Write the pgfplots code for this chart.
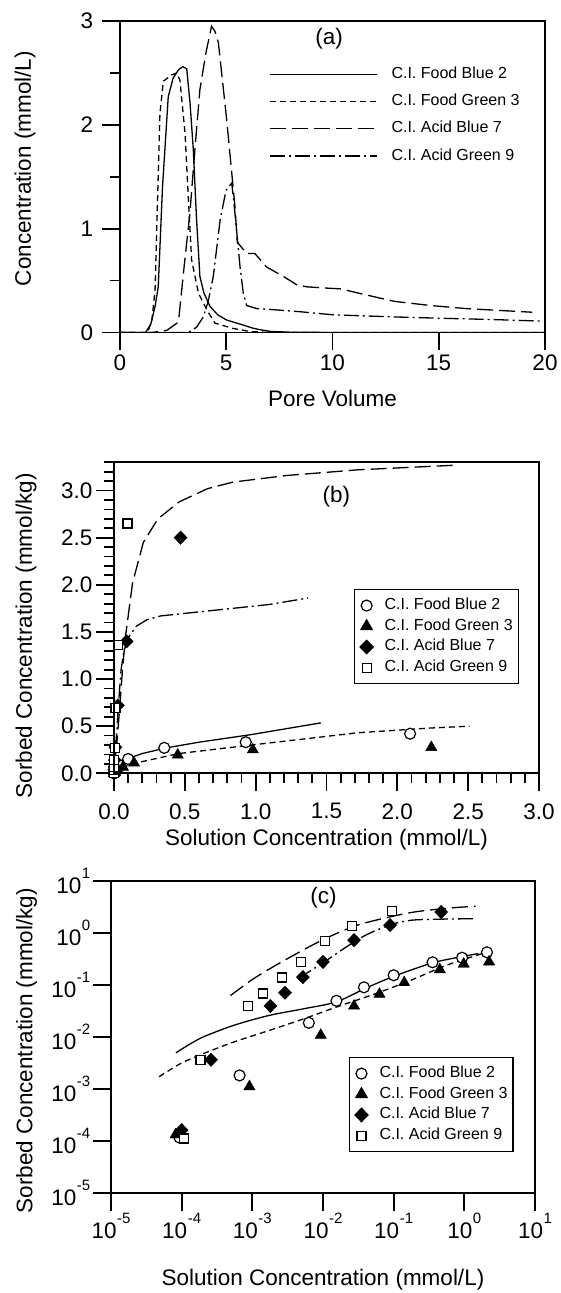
\documentclass[border=0pt]{standalone}
\usepackage{fontspec}
\setmainfont{Liberation Sans}
\usepackage{pgfplots}
\usepackage{pgfplotstable}
\pgfplotsset{compat=1.18}
\newcommand{\fL}{\fontsize{22.5}{26}\selectfont}
\newcommand{\fS}{\fontsize{16}{18}\selectfont}
\newcommand{\tp}[1]{10\kern0.5pt\raisebox{15pt}{\fontsize{15}{15}\selectfont #1}}

% measured points (shared by panels b and c)
\pgfplotstableread{
x y
9.3e-5 1.15e-4
6.6e-4 1.8e-3
6.3e-3 0.0185
0.0155 0.049
0.038 0.089
0.10 0.152
0.355 0.27
0.93 0.33
2.09 0.42
}\FBtwo
\pgfplotstableread{
x y
8.2e-5 1.3e-4
9.1e-4 1.1e-3
9.3e-3 0.0107
0.0275 0.039
0.063 0.066
0.141 0.11
0.45 0.195
0.98 0.25
2.24 0.275
}\FGthree
\pgfplotstableread{
x y
1.0e-4 1.6e-4
2.6e-4 3.6e-3
1.8e-3 0.039
2.9e-3 0.07
5.2e-3 0.14
0.010 0.275
0.0275 0.72
0.089 1.4
0.47 2.5
}\ABseven
\pgfplotstableread{
x y
1.07e-4 1.1e-4
1.85e-4 3.6e-3
8.7e-4 0.039
1.4e-3 0.068
2.6e-3 0.138
4.9e-3 0.27
0.0107 0.69
0.026 1.36
0.095 2.65
}\AGnine

\pgfplotsset{
  panel/.style={scale only axis, anchor=south west, clip mode=individual,
    axis lines=box,
    axis line style={line width=1.8pt, draw=black},
    every tick/.style={line width=1.8pt, black},
    major tick length=18pt, minor tick length=10pt,
    tick align=outside, tick pos=left,
    tick label style={font=\fL, inner sep=0pt}, label style={font=\fL, inner sep=0pt},
    /pgf/number format/assume math mode=true},
  sdash/.style={dash pattern=on 6pt off 4pt},
  ldash/.style={dash pattern=on 16pt off 6pt},
  ddot/.style={dash pattern=on 15pt off 4pt on 2pt off 4pt},
  fitl/.style={black, line width=1.3pt, mark=none, forget plot},
  mA/.style={black, only marks, mark=*, mark size=5.5pt, mark options={fill=white, draw=black, line width=1.2pt, solid}},
  mB/.style={black, only marks, mark=triangle*, mark size=6.5pt, mark options={fill=black, draw=black, solid}},
  mC/.style={black, only marks, mark=diamond*, mark size=6.7pt, mark options={fill=black, draw=black, xscale=1.3, solid}},
  mD/.style={black, only marks, mark=square*, mark size=4.5pt, mark options={fill=white, draw=black, line width=1.2pt, solid}},
  mlegend/.style={legend cell align=left,
    legend image code/.code={\draw[##1] plot coordinates {(0pt,0pt)};},
    legend style={anchor=north west, draw=black, line width=1.2pt, fill=white, font=\fS,
      inner xsep=5.5pt, inner ysep=8.5pt, row sep=5.7pt,
      nodes={inner sep=0pt, text height=11.5pt, text depth=3.5pt},
      /tikz/every odd column/.append style={column sep=11.5pt}}},
}

\begin{document}
\begin{tikzpicture}
\useasboundingbox (0,0) rectangle (561pt,1293pt);

% ---------------- panel (a)
\begin{axis}[panel, at={(120pt,960.5pt)}, width=425pt, height=311.5pt,
  xmin=0, xmax=20, ymin=0, ymax=3,
  xtick={0,5,10,15,20}, ytick={0,1,2,3}, minor ytick={0.5,1.5,2.5},
  yticklabel style={xshift=-8.7pt}, xticklabel style={yshift=-4.5pt},
  xlabel={Pore Volume}, ylabel={Concentration (mmol/L)},
  xlabel style={at={(axis description cs:0.5,-0.2376)}, anchor=base},
  ylabel style={at={(axis description cs:-0.2235,0.526)}, anchor=center},
  legend cell align=left,
  legend image code/.code={\draw[#1] (0pt,0pt) -- (107pt,0pt);},
  legend style={at={(axis description cs:0.3506,0.854)}, anchor=north west,
    draw=none, fill=none, font=\fS, inner sep=0pt, row sep=12.3pt,
    nodes={inner sep=0pt, text height=11.5pt, text depth=3.5pt},
    /tikz/every odd column/.append style={column sep=14pt}},
]
\addplot[black, line width=1.3pt] coordinates {
(0,0) (1.2,0) (1.45,0.08) (1.65,0.25) (1.80,0.44) (2.0,1.4) (2.27,2.27) (2.5,2.45)
(2.75,2.53) (2.95,2.56) (3.14,2.54) (3.3,2.2) (3.45,1.76) (3.6,1.1) (3.76,0.54)
(3.95,0.38) (4.24,0.25) (4.6,0.17) (5.02,0.12) (5.5,0.09) (5.82,0.07) (6.2,0.045)
(6.5,0.03) (7.1,0.01) (8,0.003) (10,0) (20,0)};
\addlegendentry{C.I. Food Blue 2}
\addplot[black, line width=1.3pt, sdash] coordinates {
(0,0) (1.3,0) (1.5,0.12) (1.65,0.41) (1.88,2.11) (2.04,2.42) (2.43,2.48) (2.67,2.50)
(2.82,2.43) (3.06,1.92) (3.22,1.28) (3.37,0.70) (3.69,0.38) (4.08,0.22) (4.47,0.09)
(5.3,0.04) (6.1,0.01) (7,0) (20,0)};
\addlegendentry{C.I. Food Green 3}
\addplot[black, line width=1.3pt, ldash] coordinates {
(0,0) (1.5,0) (2.2,0.02) (2.75,0.10) (3.0,0.6) (3.29,1.15) (3.5,1.7) (3.76,2.34)
(4.05,2.7) (4.31,2.95) (4.47,2.90) (4.63,2.79) (5.02,2.05) (5.41,1.21) (5.52,0.87)
(5.96,0.76) (6.35,0.76) (6.9,0.63) (7.69,0.54) (8.31,0.46) (8.78,0.44) (9.5,0.43)
(10.4,0.42) (11.2,0.38) (12.9,0.30) (14.6,0.26) (16.3,0.23) (19.4,0.195)};
\addlegendentry{C.I. Acid Blue 7}
\addplot[black, line width=1.3pt, ddot] coordinates {
(0,0) (3.2,0) (3.6,0.05) (3.92,0.15) (4.15,0.3) (4.39,0.54) (4.71,1.08) (4.99,1.37)
(5.26,1.44) (5.41,1.15) (5.65,0.63) (5.80,0.38) (5.96,0.26) (6.43,0.23) (7.2,0.22)
(8.47,0.20) (10.04,0.17) (12.9,0.15) (15.1,0.137) (17.5,0.125) (19.76,0.11)};
\addlegendentry{C.I. Acid Green 9}
\node[font=\fL] at (axis cs:9.84,2.83) {(a)};
\end{axis}
\draw[black, line width=1.8pt] (120pt,960.5pt) rectangle (545pt,1272pt);

% ---------------- panel (b)
\begin{axis}[panel, mlegend, at={(114pt,519.7pt)}, width=425pt, height=311pt,
  xmin=0, xmax=3, ymin=0, ymax=3.3,
  xtick={0,0.5,...,3}, ytick={0,0.5,...,3},
  minor xtick={0,0.1,...,3.01}, minor ytick={0,0.1,...,3.25},
  yticklabel style={xshift=-3.3pt}, xticklabel style={yshift=-12pt},
  /pgf/number format/fixed, /pgf/number format/fixed zerofill, /pgf/number format/precision=1,
  xlabel={Solution Concentration (mmol/L)}, ylabel={Sorbed Concentration (mmol/kg)},
  xlabel style={at={(axis description cs:0.5,-0.2315)}, anchor=base},
  ylabel style={at={(axis description cs:-0.207,0.442)}, anchor=center},
  legend style={at={(axis description cs:0.5647,0.5926)}},
]
\addplot[fitl] coordinates {(0,0) (0.01,0.04) (0.04,0.09) (0.106,0.16) (0.2,0.21) (0.37,0.27) (0.6,0.33) (0.966,0.41) (1.46,0.535)};
\addplot[fitl, sdash] coordinates {(0,0) (0.01,0.02) (0.05,0.06) (0.157,0.11) (0.46,0.21) (0.97,0.30) (1.72,0.43) (2.23,0.48) (2.51,0.50)};
\addplot[fitl, ldash] coordinates {(0,0) (0.01,0.15) (0.03,0.5) (0.043,0.75) (0.06,1.1) (0.081,1.45) (0.131,2.02) (0.207,2.45) (0.31,2.70) (0.46,2.88) (0.66,3.02) (0.84,3.09) (1.22,3.16) (1.72,3.22) (2.42,3.27)};
\addplot[fitl, ddot] coordinates {(0,0) (0.01,0.25) (0.02,0.45) (0.03,0.70) (0.05,1.1) (0.07,1.3) (0.09,1.38) (0.106,1.45) (0.157,1.56) (0.233,1.63) (0.33,1.67) (0.71,1.73) (1.09,1.79) (1.37,1.86)};
\addplot[mA] table {\FBtwo}; \addlegendentry{C.I. Food Blue 2}
\addplot[mB] table {\FGthree}; \addlegendentry{C.I. Food Green 3}
\addplot[mC] table {\ABseven}; \addlegendentry{C.I. Acid Blue 7}
\addplot[mD] table {\AGnine}; \addlegendentry{C.I. Acid Green 9}
\node[font=\fL] at (axis cs:1.57,2.93) {(b)};
\end{axis}
\draw[black, line width=1.8pt] (114pt,519.7pt) rectangle (539pt,830.7pt);

% ---------------- panel (c)
\begin{axis}[panel, mlegend, at={(111pt,100.3pt)}, width=424pt, height=312pt,
  xmode=log, ymode=log, xmin=1e-5, xmax=10, ymin=1e-5, ymax=10,
  xminorticks=false, yminorticks=false,
  xtick={1e-5,1e-4,1e-3,1e-2,1e-1,1,10}, ytick={1e-5,1e-4,1e-3,1e-2,1e-1,1,10},
  xticklabels={\tp{-5},\tp{-4},\tp{-3},\tp{-2},\tp{-1},\tp{0},\tp{1}},
  yticklabels={\tp{-5},\tp{-4},\tp{-3},\tp{-2},\tp{-1},\tp{0},\tp{1}},
  yticklabel style={xshift=-2.7pt}, xticklabel style={yshift=-2.3pt},
  xlabel={Solution Concentration (mmol/L)}, ylabel={Sorbed Concentration (mmol/kg)},
  xlabel style={at={(axis description cs:0.5,-0.298)}, anchor=base},
  ylabel style={at={(axis description cs:-0.1993,0.455)}, anchor=center},
  legend style={at={(axis description cs:0.561,0.435)}},
]
\addplot[fitl, smooth] coordinates {(8.32e-5,4.90e-3) (1.35e-4,7.41e-3) (2.14e-4,0.01023) (5.50e-4,0.0166) (1.74e-3,0.0257) (5.50e-3,0.0347) (0.0155,0.0468) (0.0398,0.0851) (0.1,0.1445) (0.355,0.263) (0.933,0.347) (1.585,0.398)};
\addplot[fitl, smooth, sdash] coordinates {(4.79e-5,1.70e-3) (9.55e-5,3.02e-3) (1.91e-4,4.57e-3) (5.50e-4,7.94e-3) (1.74e-3,0.0132) (5.50e-3,0.0224) (0.0155,0.0372) (0.0562,0.0676) (0.178,0.123) (0.575,0.240) (2.14,0.427)};
\addplot[fitl, smooth, ldash] coordinates {(4.90e-4,0.0617) (9.77e-4,0.123) (1.95e-3,0.219) (3.89e-3,0.372) (7.76e-3,0.617) (0.0158,0.977) (0.0316,1.413) (0.0794,1.95) (0.1995,2.51) (0.575,2.95) (1.445,3.24)};
\addplot[fitl, smooth, ddot] coordinates {(4.47e-3,0.132) (0.01,0.263) (0.0200,0.501) (0.0398,0.891) (0.0891,1.413) (0.178,1.738) (0.457,1.82) (1.445,1.862)};
\addplot[mA] table {\FBtwo}; \addlegendentry{C.I. Food Blue 2}
\addplot[mB] table {\FGthree}; \addlegendentry{C.I. Food Green 3}
\addplot[mC] table {\ABseven}; \addlegendentry{C.I. Acid Blue 7}
\addplot[mD] table {\AGnine}; \addlegendentry{C.I. Acid Green 9}
\node[font=\fL] at (axis cs:0.0102,4.68) {(c)};
\end{axis}
\draw[black, line width=1.8pt] (111pt,100.3pt) rectangle (535pt,412.3pt);
\end{tikzpicture}
\end{document}
